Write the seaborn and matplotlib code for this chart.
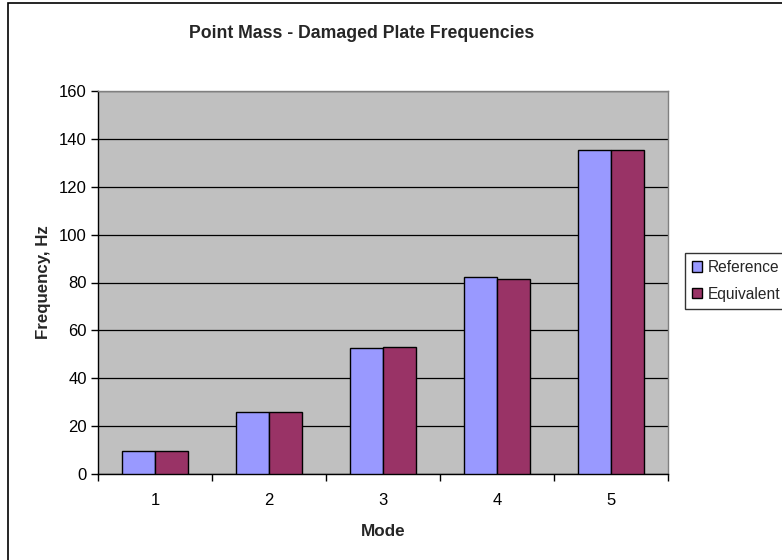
import matplotlib
matplotlib.use("Agg")
import matplotlib.pyplot as plt
import seaborn as sns
import pandas as pd
from matplotlib.patches import Rectangle
from matplotlib.ticker import MultipleLocator, FixedLocator

modes = ["1", "2", "3", "4", "5"]
reference = [9.6, 25.9, 52.6, 82.4, 135.3]
equivalent = [9.6, 25.9, 53.2, 81.4, 135.3]
series_names = ["Reference", "Equivalent"]
series_colors = ["#9999FF", "#993366"]

df = pd.DataFrame({
    "Mode": modes * 2,
    "Frequency": reference + equivalent,
    "Series": [series_names[0]] * len(modes) + [series_names[1]] * len(modes),
})

sns.set_theme(style="white")
plt.rcParams["font.family"] = ["Liberation Sans", "DejaVu Sans"]

W, H = 782, 560
fig = plt.figure(figsize=(W / 100, H / 100), dpi=100)
fig.patch.set_facecolor("white")

# outer chart frame
fig.patches.append(Rectangle((8 / W, -0.05), 1.2, 1 - 3 / H + 0.05,
                             transform=fig.transFigure, fill=False,
                             edgecolor="black", linewidth=1.2))

ax = fig.add_axes([98 / W, 1 - 474 / H, (668 - 98) / W, (474 - 91) / H])
ax.set_facecolor("#C0C0C0")

sns.barplot(data=df, x="Mode", y="Frequency", hue="Series",
            palette=series_colors, width=0.58, gap=0,
            edgecolor="black", linewidth=1.0, saturation=1,
            ax=ax, legend=False, zorder=3)

ax.set_xlim(-0.5, 4.5)
ax.set_ylim(0, 160)
ax.yaxis.set_major_locator(MultipleLocator(20))
ax.grid(axis="y", color="black", linewidth=0.9, zorder=0)
ax.set_axisbelow(True)

for side in ["top", "right"]:
    ax.spines[side].set_color("#808080")
    ax.spines[side].set_linewidth(1.0)
for side in ["left", "bottom"]:
    ax.spines[side].set_color("black")
    ax.spines[side].set_linewidth(1.0)

ax.tick_params(axis="y", which="major", left=True, length=5, width=1,
               color="black", labelsize=12, pad=3, labelcolor="black")
ax.tick_params(axis="x", which="major", bottom=False, length=0,
               labelsize=12, pad=14, labelcolor="black")
ax.xaxis.set_minor_locator(FixedLocator([-0.5, 0.5, 1.5, 2.5, 3.5, 4.5]))
ax.tick_params(axis="x", which="minor", bottom=True, length=5, width=1,
               color="black", direction="out")

ax.set_xlabel("Mode", fontsize=12.3, fontweight="bold", labelpad=11)
ax.set_ylabel("Frequency, Hz", fontsize=12.2, fontweight="bold", labelpad=6)

fig.text(362 / W, 1 - 33 / H,
         "Point Mass - Damaged Plate Frequencies",
         ha="center", va="center", fontsize=12.7, fontweight="bold")

handles = [Rectangle((0, 0), 1, 1, facecolor=c, edgecolor="black", linewidth=1.0)
           for c in series_colors]
leg = fig.legend(handles, series_names, loc="upper left",
                 bbox_to_anchor=(685 / W, 1 - 253 / H),
                 fontsize=11.2, frameon=True, fancybox=False,
                 handlelength=0.65, handleheight=0.65, handletextpad=0.35,
                 borderpad=0.45, labelspacing=0.75, borderaxespad=0)
leg.get_frame().set_edgecolor("black")
leg.get_frame().set_linewidth(1.0)

fig.savefig("out.png", dpi=100, facecolor="white")
